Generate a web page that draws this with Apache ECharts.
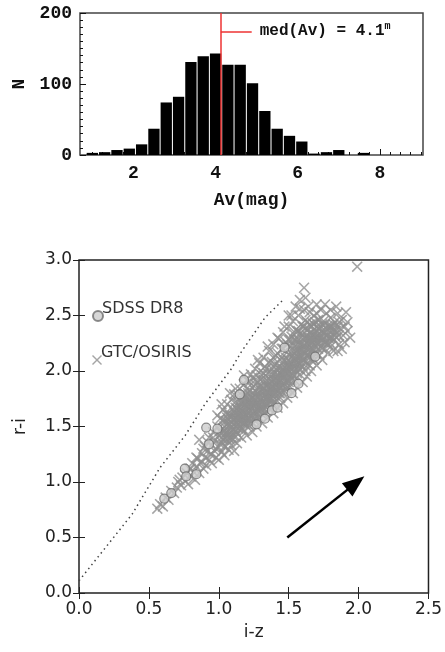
<!DOCTYPE html>
<html><head><meta charset="utf-8">
<script src="https://cdn.jsdelivr.net/npm/echarts@6/dist/echarts.min.js"></script>
<style>html,body{margin:0;padding:0;background:#fff}#c{width:445px;height:652px}</style>
</head><body><div id="c"></div>
<script>
// ---------- Top: histogram of Av ----------
const avBinCenters = [1.0,1.3,1.6,1.9,2.2,2.5,2.8,3.1,3.4,3.7,4.0,4.3,4.6,4.9,5.2,5.5,5.8,6.1,6.4,6.7,7.0,7.3,7.6];
const avCounts     = [3,4,7,9,15,37,74,82,131,139,143,127,127,101,62,37,27,19,2,4,7,0,3];
const avMajorTicks = [2,4,6,8];
const avMinorTicks = [1.0,1.25,1.5,1.75,2.25,2.5,2.75,3.0,3.25,3.5,3.75,4.25,4.5,4.75,5.0,5.25,5.5,5.75,6.25,6.5,6.75,7.0,7.25,7.5,7.75,8.25,8.5,8.75,9.0];
const medAv = 4.13;
const medLabelN = 174;
const medLabelEnd = 4.88;
const medLabelText = 'med(Av) = 4.1';
const medLabelSup = 'm';

// ---------- Bottom: r-i vs i-z ----------
const sdssDR8 = [
  [0.61,0.85],[0.66,0.90],[0.757,1.12],[0.767,1.05],[0.84,1.07],[0.91,1.49],[0.99,1.48],[0.93,1.34],
  [1.15,1.79],[1.18,1.92],[1.27,1.52],[1.33,1.57],[1.38,1.645],[1.42,1.67],[1.52,1.80],[1.57,1.885],
  [1.47,2.21],[1.69,2.13]
];
const gtcOsiris = [
  [0.56,0.76],[0.58,0.80],[0.60,0.78],[0.62,0.86],[0.64,0.84],[0.66,0.92],[0.68,0.90],[0.70,0.95],[0.71,1.00],[0.73,0.97],
  [0.74,1.04],[0.76,1.01],[0.77,1.08],[0.78,0.98],[0.79,1.12],[0.80,1.05],[0.81,1.17],[0.82,1.09],[0.83,1.02],[0.84,1.14],
  [0.85,1.21],[0.86,1.08],[0.86,1.38],[0.87,1.17],[0.88,1.26],[0.89,1.12],[0.90,1.22],[0.90,1.32],[0.91,1.15],[0.92,1.28],
  [0.93,1.20],[0.93,1.40],[0.94,1.25],[0.95,1.33],[0.95,1.17],[0.96,1.45],[0.97,1.28],[0.97,1.37],[0.98,1.22],[0.99,1.50],
  [1.00,1.31],[1.00,1.42],[1.00,1.20],[1.01,1.57],[1.02,1.36],[1.02,1.27],[1.03,1.48],[1.03,1.65],[1.04,1.40],[1.04,1.24],
  [1.05,1.55],[1.05,1.32],[1.06,1.70],[1.06,1.45],[1.07,1.29],[1.07,1.62],[1.08,1.38],[1.08,1.52],[1.09,1.74],[1.09,1.33],
  [1.10,1.47],[1.10,1.60],[1.11,1.28],[1.11,1.79],[1.12,1.41],[1.12,1.67],[1.13,1.54],[1.13,1.35],[1.14,1.72],[1.14,1.48],
  [1.15,1.84],[1.15,1.60],[1.16,1.40],[1.16,1.66],[1.17,1.53],[1.17,1.77],[1.18,1.46],[1.18,1.88],[1.19,1.61],[1.19,1.70],
  [1.20,1.42],[1.20,1.55],[1.20,1.92],[1.21,1.80],[1.21,1.66],[1.22,1.50],[1.22,1.74],[1.23,1.59],[1.23,1.97],[1.24,1.45],
  [1.24,1.85],[1.25,1.69],[1.25,1.56],[1.26,1.78],[1.26,2.02],[1.27,1.62],[1.27,1.50],[1.28,1.90],[1.28,1.72],[1.29,1.58],
  [1.29,2.07],[1.30,1.82],[1.30,1.66],[1.31,1.53],[1.31,1.96],[1.32,1.76],[1.32,2.12],[1.33,1.62],[1.33,1.88],[1.34,1.70],
  [1.34,2.02],[1.35,1.58],[1.35,1.81],[1.36,2.18],[1.36,1.93],[1.37,1.66],[1.37,1.75],[1.38,2.08],[1.38,1.86],[1.39,1.62],
  [1.39,2.24],[1.40,1.98],[1.40,1.72],[1.41,1.80],[1.41,2.14],[1.42,1.67],[1.42,1.91],[1.43,2.29],[1.43,2.04],[1.44,1.76],
  [1.44,1.85],[1.45,2.20],[1.45,1.96],[1.46,1.71],[1.46,2.35],[1.47,2.09],[1.47,1.82],[1.48,1.90],[1.48,2.26],[1.49,2.01],
  [1.49,1.76],[1.50,2.40],[1.50,2.15],[1.51,1.86],[1.51,1.95],[1.52,2.31],[1.52,2.07],[1.53,1.80],[1.53,2.45],[1.54,2.22],
  [1.54,1.92],[1.55,2.01],[1.55,2.37],[1.56,2.13],[1.56,1.85],[1.57,2.50],[1.57,2.28],[1.58,1.97],[1.58,2.06],[1.59,2.42],
  [1.59,2.19],[1.60,1.90],[1.60,2.33],[1.61,2.55],[1.61,2.10],[1.62,2.00],[1.62,2.46],[1.63,2.25],[1.63,1.95],[1.64,2.38],
  [1.64,2.15],[1.65,2.53],[1.65,2.05],[1.66,2.30],[1.66,2.00],[1.67,2.43],[1.67,2.20],[1.68,2.10],[1.68,2.50],[1.69,2.35],
  [1.70,2.05],[1.70,2.25],[1.71,2.46],[1.72,2.14],[1.72,2.38],[1.73,2.55],[1.74,2.28],[1.74,2.10],[1.75,2.45],[1.76,2.20],
  [1.76,2.34],[1.77,2.52],[1.78,2.16],[1.78,2.41],[1.79,2.29],[1.80,2.48],[1.80,2.22],[1.81,2.36],[1.82,2.18],[1.83,2.44],
  [1.84,2.30],[1.85,2.52],[1.86,2.24],[1.87,2.38],[1.88,2.46],[1.89,2.32],[1.90,2.40],[1.90,2.26],[1.91,2.53],[1.92,2.36],
  [1.88,2.20],[1.61,2.75],[1.58,2.64],[1.62,2.66],[1.99,2.94],[1.55,2.58],[1.50,2.50],[1.70,2.60],[1.76,2.60],[1.84,2.58],
  [1.02,1.44],[1.04,1.50],[1.06,1.38],[1.08,1.60],[1.09,1.45],[1.10,1.52],[1.11,1.63],[1.12,1.50],[1.13,1.60],[1.14,1.55],
  [1.15,1.69],[1.16,1.58],[1.17,1.64],[1.18,1.72],[1.19,1.52],[1.20,1.68],[1.21,1.58],[1.22,1.82],[1.23,1.68],[1.24,1.76],
  [1.25,1.62],[1.26,1.70],[1.27,1.84],[1.28,1.65],[1.29,1.77],[1.30,1.92],[1.31,1.72],[1.32,1.85],[1.33,1.68],[1.34,1.92],
  [1.35,1.76],[1.36,1.85],[1.37,2.00],[1.38,1.78],[1.39,1.92],[1.40,1.84],[1.41,2.02],[1.42,1.82],[1.43,1.96],[1.44,2.10],
  [1.45,1.88],[1.46,2.02],[1.47,1.95],[1.48,2.12],[1.49,1.92],[1.50,2.04],[1.51,2.22],[1.52,1.98],[1.53,2.14],[1.54,2.04],
  [1.55,2.28],[1.56,2.06],[1.57,2.20],[1.58,2.34],[1.59,2.08],[1.60,2.22],[1.61,2.40],[1.62,2.16],[1.63,2.32],[1.64,2.24],
  [1.65,2.42],[1.66,2.16],[1.67,2.32],[1.68,2.24],[1.69,2.16],[1.70,2.40],[1.71,2.30],[1.73,2.22],[1.75,2.34],[1.77,2.26],
  [1.79,2.40],[1.81,2.30],[1.83,2.36],[1.85,2.40],[1.12,1.58],[1.18,1.62],[1.24,1.66],[1.30,1.74],[1.36,1.80],[1.42,1.88],
  [1.48,1.98],[1.54,2.10],[1.60,2.14],[1.66,2.24],[1.72,2.30],[1.26,1.88],[1.32,1.98],[1.38,2.02],[1.44,1.98],[1.50,2.28],
  [1.56,2.36],[1.20,1.76],[1.14,1.64],[1.08,1.48],[1.04,1.32],[0.98,1.30],[0.92,1.36],[0.88,1.18],[0.96,1.40],
  [1.01,1.34],[1.01,1.46],[1.03,1.38],[1.03,1.56],[1.05,1.44],[1.05,1.62],[1.06,1.52],[1.07,1.40],[1.07,1.56],[1.09,1.40],
  [1.09,1.58],[1.10,1.66],[1.10,1.38],[1.11,1.48],[1.11,1.56],[1.12,1.46],[1.12,1.72],[1.13,1.44],[1.13,1.66],[1.14,1.52],
  [1.14,1.78],[1.15,1.50],[1.15,1.62],[1.16,1.72],[1.16,1.48],[1.17,1.58],[1.17,1.70],[1.18,1.54],[1.18,1.80],[1.19,1.66],
  [1.19,1.76],[1.20,1.60],[1.20,1.84],[1.21,1.52],[1.21,1.72],[1.22,1.62],[1.22,1.90],[1.23,1.54],[1.23,1.76],[1.24,1.70],
  [1.24,1.94],[1.25,1.80],[1.25,1.58],[1.26,1.64],[1.26,1.92],[1.27,1.70],[1.27,1.96],[1.28,1.58],[1.28,1.80],[1.29,1.66],
  [1.29,1.86],[1.30,1.62],[1.30,2.00],[1.31,1.82],[1.31,1.66],[1.32,1.70],[1.32,1.92],[1.33,1.78],[1.33,2.04],[1.34,1.64],
  [1.34,1.86],[1.35,1.70],[1.35,1.98],[1.36,1.74],[1.36,2.08],[1.37,1.84],[1.37,1.92],[1.38,1.70],[1.38,1.96],[1.39,1.80],
  [1.39,2.12],[1.40,1.78],[1.40,1.92],[1.40,2.06],[1.41,1.74],[1.41,1.94],[1.42,2.00],[1.42,2.16],[1.43,1.80],[1.43,1.90],
  [1.44,2.04],[1.44,1.80],[1.45,2.12],[1.45,1.82],[1.46,1.94],[1.46,2.20],[1.47,1.88],[1.47,2.04],[1.48,1.84],[1.48,2.18],
  [1.49,2.08],[1.49,2.24],[1.50,1.90],[1.50,2.10],[1.51,2.02],[1.51,2.28],[1.52,1.92],[1.52,2.16],[1.53,2.06],[1.53,2.34],
  [1.54,1.96],[1.54,2.28],[1.55,2.10],[1.55,2.18],[1.56,1.98],[1.56,2.24],[1.57,2.08],[1.57,2.36],[1.58,2.02],[1.58,2.24],
  [1.59,2.14],[1.59,2.30],[1.60,2.04],[1.60,2.40],[1.61,2.18],[1.61,2.30],[1.62,2.08],[1.62,2.38],[1.63,2.14],[1.63,2.44],
  [1.64,2.06],[1.64,2.30],[1.65,2.20],[1.65,2.34],[1.66,2.10],[1.66,2.40],[1.67,2.26],[1.67,2.12],[1.68,2.32],[1.68,2.42],
  [1.69,2.22],[1.69,2.44],[1.70,2.16],[1.70,2.32],[1.71,2.20],[1.71,2.38],[1.72,2.46],[1.73,2.30],[1.73,2.40],[1.74,2.20],
  [1.74,2.36],[1.75,2.26],[1.76,2.42],[1.77,2.32],[1.78,2.24],[1.79,2.36],[1.80,2.30],[1.80,2.40],[1.82,2.28],[1.82,2.42],
  [1.84,2.36],[1.86,2.32],[1.18,1.96],[1.28,2.10],[1.35,2.22],[1.42,2.30],[1.47,2.40],[1.52,2.50],[1.58,2.56],[1.64,2.58],
  [1.70,2.52],[1.80,2.55],[1.86,2.44],[1.92,2.44],[1.94,2.30],[1.85,2.18],[0.99,1.60],[1.02,1.70],[1.08,1.80],[1.12,1.84],
  [0.95,1.25],[0.89,1.30],[0.84,1.22],[0.80,1.12],[0.76,1.06],[0.72,1.02],
  [1.02,1.40],[1.04,1.46],[1.06,1.58],[1.08,1.44],[1.10,1.56],[1.12,1.62],[1.13,1.50],[1.15,1.56],[1.16,1.64],[1.17,1.48],
  [1.19,1.58],[1.20,1.72],[1.21,1.62],[1.22,1.56],[1.23,1.72],[1.24,1.62],[1.25,1.74],[1.26,1.82],[1.27,1.66],[1.28,1.76],
  [1.29,1.70],[1.30,1.86],[1.31,1.78],[1.32,1.66],[1.33,1.82],[1.34,1.76],[1.35,1.88],[1.36,1.70],[1.37,1.80],[1.38,1.90],
  [1.39,1.74],[1.40,1.88],[1.41,1.84],[1.42,1.96],[1.43,1.86],[1.44,1.92],[1.45,2.00],[1.46,1.86],[1.47,2.00],[1.48,1.94],
  [1.49,1.86],[1.50,1.98],[1.51,2.08],[1.52,2.02],[1.53,1.96],[1.54,2.16],[1.55,2.06],[1.56,2.18],[1.57,2.02],[1.58,2.12],
  [1.59,2.24],[1.60,2.10],[1.61,2.24],[1.62,2.30],[1.63,2.20],[1.64,2.12],[1.65,2.28],[1.66,2.34],[1.67,2.18],[1.68,2.28],
  [1.69,2.30],[1.70,2.36],[1.71,2.26],[1.72,2.34],[1.73,2.26],[1.74,2.42],[1.75,2.30],[1.76,2.26],[1.77,2.38],[1.78,2.32],
  [1.79,2.26],[1.81,2.40],[1.83,2.32],[1.30,1.70],[1.34,1.80],[1.38,1.84],[1.42,1.94],[1.46,1.98],[1.50,2.06],[1.54,2.12],
  [1.58,2.18],[1.62,2.22],[1.66,2.28],[1.26,1.74],[1.22,1.68],[1.18,1.58],[1.14,1.58],[1.10,1.42],[1.06,1.42]
];
const trackIz = [0.00,0.19,0.38,0.58,0.76,0.90,1.00,1.09,1.16,1.33,1.46];
const trackRi = [0.11,0.41,0.71,1.13,1.42,1.70,1.87,2.02,2.17,2.48,2.64];
const arrowStart = [1.49,0.50];
const arrowEnd   = [1.98,0.99];

const monoFont = 'Liberation Mono';
const sansFont = 'DejaVu Sans';
const crossPath = 'path://M0,1 L1,0 L5,4 L9,0 L10,1 L6,5 L10,9 L9,10 L5,6 L1,10 L0,9 L4,5 Z';

const chart = echarts.init(document.getElementById('c'), null, {renderer: 'canvas'});
const topText = {fontFamily: monoFont, fontSize: 18, fontWeight: 'bold', color: '#111'};
const botText = {fontFamily: sansFont, fontSize: 17, color: '#222'};
const legendRich = {t: {fontFamily: sansFont, fontSize: 16, color: '#333', padding: [0, 0, 14, -6]}};

chart.setOption({
  animation: false,
  backgroundColor: '#fff',
  grid: [
    {left: 80, right: 22, top: 13, bottom: 497, show: true, borderColor: '#444', borderWidth: 1.5, backgroundColor: 'transparent'},
    {left: 79, right: 13, top: 260, bottom: 59, show: true, borderColor: '#222', borderWidth: 1.5, backgroundColor: 'transparent'}
  ],
  legend: [
    {data: ['SDSS DR8'], left: 87, top: 296, itemWidth: 10, itemHeight: 10, selectedMode: false,
     formatter: '{t|{name}}', textStyle: {rich: legendRich}},
    {data: ['GTC/OSIRIS'], left: 87, top: 340, itemWidth: 10, itemHeight: 10, selectedMode: false,
     formatter: '{t|{name}}', textStyle: {rich: legendRich}}
  ],
  xAxis: [
    {gridIndex: 0, type: 'value', position: 'bottom', min: 0.7, max: 9.05,
     name: 'Av(mag)', nameLocation: 'middle', nameGap: 36, nameTextStyle: topText,
     axisLine: {show: false}, splitLine: {show: false},
     axisTick: {inside: true, length: 6, customValues: avMajorTicks, lineStyle: {color: '#111', width: 1}},
     axisLabel: {customValues: avMajorTicks, margin: 9, ...topText}},
    {gridIndex: 0, type: 'value', position: 'bottom', min: 0.7, max: 9.05,
     axisLine: {show: false}, splitLine: {show: false}, axisLabel: {show: false},
     axisTick: {inside: true, length: 3, customValues: avMinorTicks, lineStyle: {color: '#111', width: 1}}},
    {gridIndex: 1, type: 'value', position: 'bottom', min: 0, max: 2.5, interval: 0.5,
     name: 'i-z', nameLocation: 'middle', nameGap: 31, nameTextStyle: botText,
     axisLine: {show: false}, splitLine: {show: false},
     axisTick: {inside: true, length: 6, lineStyle: {color: '#222'}},
     axisLabel: {margin: 8, formatter: v => v.toFixed(1), ...botText}},
    {gridIndex: 1, type: 'value', position: 'top', min: 0, max: 2.5, interval: 0.5,
     axisLine: {show: false}, splitLine: {show: false}, axisLabel: {show: false},
     axisTick: {inside: true, length: 6, lineStyle: {color: '#222'}}}
  ],
  yAxis: [
    {gridIndex: 0, type: 'value', position: 'left', min: 0, max: 200, interval: 100,
     name: 'N', nameLocation: 'middle', nameGap: 46, nameRotate: 90, nameTextStyle: topText,
     axisLine: {show: false}, splitLine: {show: false},
     axisTick: {inside: true, length: 6, lineStyle: {color: '#111'}},
     minorTick: {show: true, splitNumber: 10, length: 3, lineStyle: {color: '#111'}},
     axisLabel: {margin: 8, ...topText}},
    {gridIndex: 1, type: 'value', position: 'left', min: 0, max: 3, interval: 0.5,
     name: 'r-i', nameLocation: 'middle', nameGap: 50, nameRotate: 90, nameTextStyle: botText,
     axisLine: {show: false}, splitLine: {show: false},
     axisTick: {inside: true, length: 6, lineStyle: {color: '#222'}},
     axisLabel: {margin: 7, formatter: v => v.toFixed(1), ...botText}},
    {gridIndex: 1, type: 'value', position: 'right', min: 0, max: 3, interval: 0.5,
     axisLine: {show: false}, splitLine: {show: false}, axisLabel: {show: false},
     axisTick: {inside: true, length: 6, lineStyle: {color: '#222'}}}
  ],
  series: [
    {name: 'N', type: 'bar', xAxisIndex: 0, yAxisIndex: 0, barWidth: 11.3,
     itemStyle: {color: '#000'}, silent: true,
     data: avBinCenters.map((c, i) => [c, avCounts[i]]),
     markLine: {silent: true, symbol: 'none', animation: false,
       lineStyle: {color: '#ee3333', width: 1.5, type: 'solid'},
       label: {show: false},
       data: [
         [{coord: [medAv, 0]}, {coord: [medAv, 200]}],
         [{coord: [medAv, medLabelN],
           label: {show: true, position: 'end', distance: 8,
             formatter: '{a|' + medLabelText + '}{b|' + medLabelSup + '}',
             rich: {a: {fontFamily: monoFont, fontSize: 16, fontWeight: 'bold', color: '#111', lineHeight: 20},
                    b: {fontFamily: monoFont, fontSize: 10, fontWeight: 'bold', color: '#111', verticalAlign: 'top', lineHeight: 20, padding: [0,0,10,0]}}}},
          {coord: [medLabelEnd, medLabelN]}]
       ]}},
    {name: 'GTC/OSIRIS', type: 'scatter', xAxisIndex: 2, yAxisIndex: 1, symbol: crossPath, symbolSize: 11,
     itemStyle: {color: '#8e8e8e'}, silent: true, data: gtcOsiris, z: 2},
    {name: 'SDSS DR8', type: 'scatter', xAxisIndex: 2, yAxisIndex: 1, symbol: 'circle', symbolSize: 9,
     itemStyle: {color: '#cdcdcd', borderColor: '#6e6e6e', borderWidth: 1.2}, silent: true, data: sdssDR8, z: 3},
    {name: 'track', type: 'line', xAxisIndex: 2, yAxisIndex: 1, symbol: 'none', silent: true, z: 4,
     lineStyle: {color: '#444', width: 1.5, type: [1.5, 3.5]},
     data: trackIz.map((x, i) => [x, trackRi[i]]),
     markLine: {silent: true, symbol: ['none', 'triangle'], symbolSize: [17, 22], animation: false,
       label: {show: false}, lineStyle: {color: '#000', width: 2.5, type: 'solid'},
       itemStyle: {color: '#000'},
       data: [[{coord: arrowStart}, {coord: arrowEnd}]]}}
  ]
});
</script></body></html>
